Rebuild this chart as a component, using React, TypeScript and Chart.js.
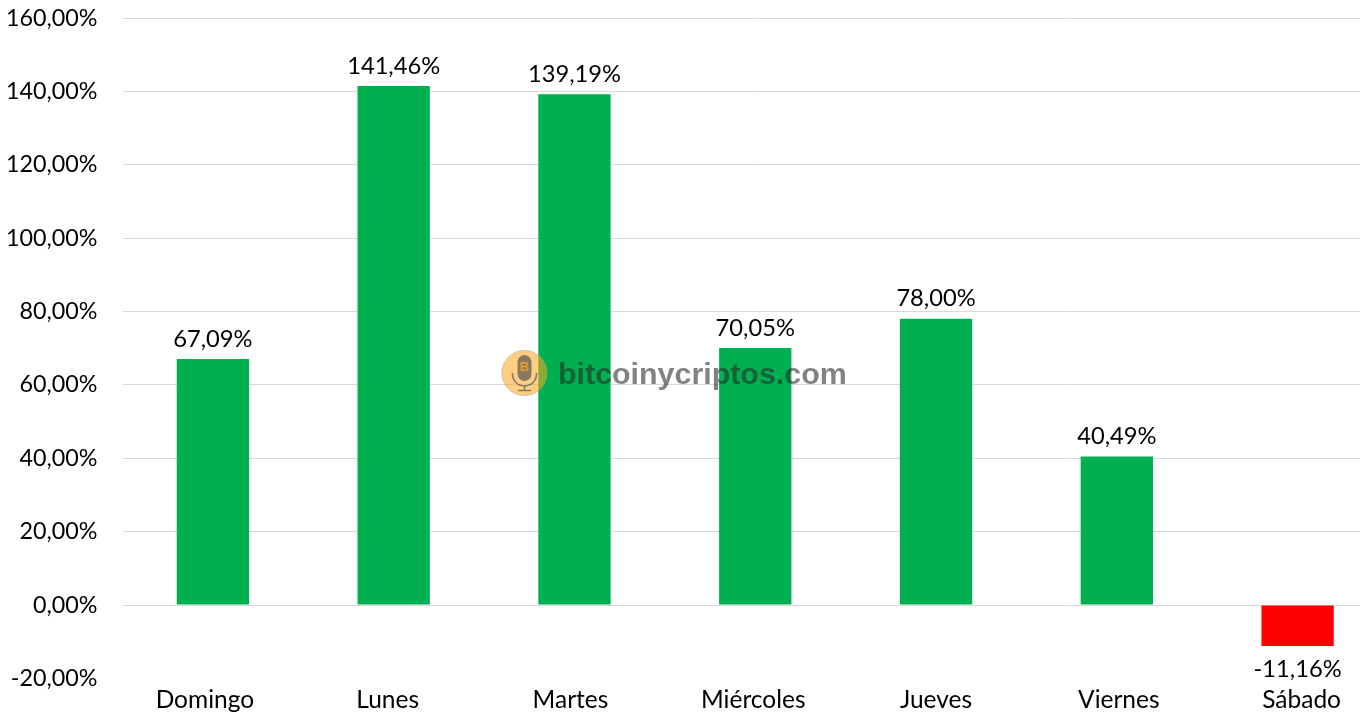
import React, { useEffect, useRef } from "react";
import { Chart, registerables } from "chart.js";

Chart.register(...registerables);

const days = ["Domingo", "Lunes", "Martes", "Miércoles", "Jueves", "Viernes", "Sábado"];
const returns = [67.09, 141.46, 139.19, 70.05, 78.0, 40.49, -11.16];

const FONT = "Lato, Carlito, sans-serif";
const fmt = (v: number) => v.toFixed(2).replace(".", ",") + "%";

const valueLabels = {
  id: "valueLabels",
  afterDatasetsDraw(chart: any) {
    const ctx = chart.ctx;
    const meta = chart.getDatasetMeta(0);
    ctx.save();
    ctx.font = `23.7px ${FONT}`;
    ctx.fillStyle = "#000";
    ctx.textAlign = "center";
    ctx.textBaseline = "middle";
    meta.data.forEach((bar: any, i: number) => {
      const v = returns[i];
      ctx.fillText(fmt(v), bar.x, v >= 0 ? bar.y - 20 : bar.y + 23);
    });
    ctx.restore();
  },
};

export default function App() {
  const ref = useRef<HTMLCanvasElement>(null);
  useEffect(() => {
    const chart = new Chart(ref.current!, {
      type: "bar",
      data: {
        labels: days,
        datasets: [
          {
            data: returns,
            backgroundColor: returns.map((v) => (v >= 0 ? "#00B050" : "#FF0000")),
            barPercentage: 0.4,
            categoryPercentage: 1,
          },
        ],
      },
      options: {
        animation: false,
        responsive: false,
        devicePixelRatio: 1,
        layout: { padding: { top: 18, left: 0, right: 0, bottom: 0 } },
        plugins: { legend: { display: false }, tooltip: { enabled: false } },
        scales: {
          x: {
            afterFit: (s: any) => {
              s.height = 43.6;
              s.paddingLeft = 0;
              s.paddingRight = 0;
              // The reference's category labels are spaced slightly wider than its bars.
              s.getPixelForTick = (i: number) => s.getPixelForValue(i) + (i - 4) * 2;
            },
            grid: { display: false },
            border: { display: false },
            ticks: { color: "#000", font: { family: FONT, size: 24.5 }, padding: -1, maxRotation: 0, autoSkip: false, align: "center" },
          },
          y: {
            min: -20,
            max: 160,
            afterFit: (s: any) => {
              s.width = 122.5;
              s.paddingTop = 0;
              s.paddingBottom = 0;
            },
            border: { display: false },
            grid: {
              drawTicks: false,
              lineWidth: 1,
              color: (c: any) => (c.tick && c.tick.value === -20 ? "rgba(0,0,0,0)" : "#D9D9D9"),
            },
            ticks: {
              stepSize: 20,
              padding: 25,
              color: "#000",
              font: { family: FONT, size: 23.3 },
              callback: (v: any) => fmt(Number(v)),
            },
          },
        },
      },
      plugins: [valueLabels],
    } as any);
    return () => chart.destroy();
  }, []);

  return (
    <div style={{ position: "fixed", left: 0, top: 0, width: 1360, height: 722, overflow: "hidden", background: "#fff" }}>
      <canvas ref={ref} width={1388} height={722} style={{ position: "absolute", left: 0, top: 0 }} />
      <svg width={60} height={60} viewBox="0 0 60 60" style={{ position: "absolute", left: 495, top: 343 }}>
        <circle cx={29.5} cy={30} r={22.7} fill="#FFA51E" fillOpacity={0.55} stroke="#999" strokeOpacity={0.4} />
        <rect x={22.5} y={12} width={14} height={26} rx={7} fill="#555" fillOpacity={0.7} />
        <text x={29.5} y={28} textAnchor="middle" fontFamily="Liberation Sans" fontWeight={700} fontSize={13} fill="#FFA51E" fillOpacity={0.8}>B</text>
        <path d="M17.5 30 v1 a12 12 0 0 0 24 0 v-1 M29.5 43 v4 M23 47.5 h13" fill="none" stroke="#555" strokeOpacity={0.7} strokeWidth={1.6} />
      </svg>
      <div style={{ position: "absolute", left: 558, top: 355, fontFamily: "Liberation Sans", fontWeight: 700, fontSize: 30.4, lineHeight: "36px", color: "rgba(40,40,40,0.58)", whiteSpace: "nowrap" }}>
        bitcoinycriptos.com
      </div>
    </div>
  );
}
